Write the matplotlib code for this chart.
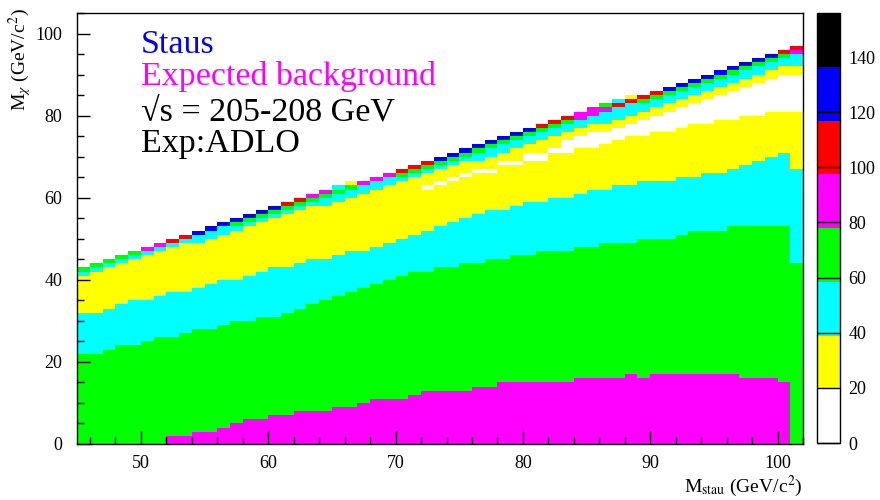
import numpy as np
import matplotlib
matplotlib.use('Agg')
import matplotlib.pyplot as plt
from matplotlib.colors import ListedColormap, BoundaryNorm
from matplotlib.ticker import MultipleLocator
from matplotlib.cm import ScalarMappable

plt.rcParams['font.family'] = ['Liberation Serif', 'DejaVu Serif']
plt.rcParams['mathtext.fontset'] = 'stix'

# ---------------- data (per 1 GeV M_stau bin, lower edges 45..101) ----------------
m_stau_lo = list(range(45, 102))
n_mchi_bins = 105
# upper edge of filled region per column
top = [43, 44, 45, 46, 47, 48, 49, 50, 51, 52, 53, 54, 55, 56, 57, 58, 59, 60, 61,
       62, 63, 64, 64, 65, 66, 67, 68, 69, 70, 71, 72, 73, 74, 75, 76, 77, 78, 79,
       80, 81, 82, 83, 84, 85, 85, 86, 87, 88, 89, 90, 91, 92, 93, 94, 95, 96, 97]
# colour class of the topmost cell and of the cell below it
# (0 white, 1 yellow, 2 cyan, 3 green, 4 magenta, 5 red, 6 blue, 7 black)
top_cell = [3, 3, 3, 3, 3, 4, 4, 5, 5, 6, 6, 6, 6, 6, 6, 6, 5, 5, 4, 4, 2, 1, 4, 4, 4,
            5, 5, 5, 6, 6, 6, 6, 6, 6, 6, 6, 5, 5, 5, 4, 4, 3, 2, 1, 5, 5, 6, 6, 6, 6,
            6, 6, 6, 6, 6, 5, 5]
second_cell = [2, 2, 2, 2, 2, 2, 2, 2, 2, 2, 2, 2, 3, 3, 3, 3, 3, 3, 3, 3, 3, 3, 2, 2,
               2, 3, 3, 3, 3, 3, 3, 3, 3, 3, 3, 3, 3, 3, 3, 4, 4, 4, 5, 5, 3, 3, 3, 3,
               3, 3, 3, 3, 3, 3, 3, 3, 4]
# bottom of the cyan strip under the two top cells
upper_cyan_bot = [41, 42, 43, 44, 45, 46, 47, 48, 49, 49, 50, 51, 52, 53, 54, 55, 56,
                  57, 58, 58, 59, 60, 61, 62, 63, 64, 65, 66, 67, 68, 69, 69, 70, 71,
                  72, 73, 74, 75, 76, 77, 78, 78, 79, 80, 81, 82, 83, 84, 85, 86, 87,
                  88, 89, 90, 91, 92, 92]
# white gap inside the yellow band (bottom / top edges)
white_bot = [0] * 27 + [62, 63, 64, 65, 66, 66, 68, 68, 69, 69, 71, 71, 72, 72, 73, 74,
                        75, 75, 76, 76, 77, 78, 78, 79, 79, 80, 80, 81, 81, 81]
white_top = [0] * 27 + [63, 64, 65, 66, 67, 67, 69, 69, 71, 71, 72, 74, 75, 76, 76, 77,
                        78, 79, 80, 81, 82, 83, 84, 85, 86, 87, 88, 89, 90, 90]
# top of the lower cyan, green and magenta regions
cyan_top = [32, 32, 33, 34, 35, 35, 36, 37, 37, 38, 39, 40, 40, 41, 42, 43, 43, 44, 45,
            45, 46, 47, 47, 48, 49, 50, 51, 52, 53, 54, 55, 56, 57, 57, 58, 59, 59, 60,
            60, 61, 62, 62, 63, 63, 64, 64, 64, 65, 65, 66, 66, 67, 68, 69, 70, 71, 67]
green_top = [22, 22, 23, 24, 24, 25, 26, 26, 27, 28, 28, 29, 30, 30, 31, 31, 32, 33, 34,
             35, 36, 37, 38, 39, 40, 41, 42, 42, 43, 43, 44, 44, 45, 45, 46, 46, 47, 47,
             47, 48, 48, 49, 49, 49, 50, 50, 50, 51, 52, 52, 52, 53, 53, 53, 53, 53, 44]
magenta_top = [0, 0, 0, 0, 0, 0, 0, 2, 2, 3, 3, 4, 5, 6, 6, 7, 7, 8, 8, 8, 9, 9, 10, 11,
               11, 11, 12, 13, 13, 13, 13, 14, 14, 15, 15, 15, 15, 15, 15, 16, 16, 16,
               16, 17, 16, 17, 17, 17, 17, 17, 17, 17, 16, 16, 16, 15, 0]

palette = ['#FFFFFF', '#FFFF00', '#00FFFF', '#00FF00', '#FF00FF', '#FF0000', '#0000FF', '#000000']
z_max = 156
cbar_ticks = [0, 20, 40, 60, 80, 100, 120, 140]

# ---------------- build the cell grid ----------------
nx = len(m_stau_lo)
Z = np.full((n_mchi_bins, nx), np.nan)
for i in range(nx):
    c = Z[:, i]
    t = top[i]
    c[:magenta_top[i]] = 4
    c[magenta_top[i]:green_top[i]] = 3
    c[green_top[i]:cyan_top[i]] = 2
    c[cyan_top[i]:t] = 1
    c[white_bot[i]:white_top[i]] = 0
    c[upper_cyan_bot[i]:t - 2] = 2
    c[t - 2] = second_cell[i]
    c[t - 1] = top_cell[i]

x_edges = np.array(m_stau_lo + [m_stau_lo[-1] + 1], dtype=float)
y_edges = np.arange(n_mchi_bins + 1, dtype=float)

cmap = ListedColormap(palette)
norm_cls = BoundaryNorm(np.arange(-0.5, len(palette) + 0.5), len(palette))

fig = plt.figure(figsize=(8.8, 5), dpi=100)
W, H = 880, 500
ax = fig.add_axes([77.3 / W, (H - 444) / H, (803 - 77.3) / W, (444 - 13) / H])
ax.pcolormesh(x_edges, y_edges, np.ma.masked_invalid(Z), cmap=cmap, norm=norm_cls,
              shading='flat', antialiased=False, edgecolors='none')
ax.set_xlim(45, 102)
ax.set_ylim(0, 105)
ax.xaxis.set_major_locator(MultipleLocator(10))
ax.xaxis.set_minor_locator(MultipleLocator(2))
ax.yaxis.set_major_locator(MultipleLocator(20))
ax.yaxis.set_minor_locator(MultipleLocator(5))
ax.tick_params(which='both', direction='in', top=False, right=False, width=1, colors='black',
               labelsize=13)
ax.tick_params(which='major', length=9.5)
ax.tick_params(which='minor', length=5)
ax.tick_params(axis='y', which='both', pad=11)
ax.tick_params(axis='x', which='both', pad=8)
for s in ax.spines.values():
    s.set_linewidth(1)
    s.set_color('black')

ax.text(50.0, 95.3, 'Staus', color='#0000FF', fontsize=24.5)
ax.text(50.0, 87.4, 'Expected background', color='#FF00FF', fontsize=24.5)
ax.text(50.0, 78.9, '\u221as = 205-208 GeV', color='black', fontsize=24.5)
ax.text(50.0, 71.2, 'Exp:ADLO', color='black', fontsize=24.5)

fig.text(803 / W, (H - 492) / H, r'M$_{\mathrm{stau}}$ (GeV/c$^{2}$)', ha='right', va='baseline',
         fontsize=14)
fig.text(20 / W, (H - 8) / H, r'M$_{\chi}$ (GeV/c$^{2}$)', ha='center', va='top', rotation=90,
         fontsize=14)

# ---------------- colour bar ----------------
cax = fig.add_axes([817 / W, (H - 443) / H, 23 / W, (443 - 13) / H])
sm = ScalarMappable(cmap=cmap, norm=BoundaryNorm(np.linspace(0, z_max, len(palette) + 1), len(palette)))
cb = fig.colorbar(sm, cax=cax)
cb.outline.set_linewidth(1)
cb.outline.set_edgecolor('black')
cax.set_ylim(0, z_max)
cb.set_ticks(cbar_ticks)
cb.set_ticklabels([str(v) for v in cbar_ticks])
cax.tick_params(direction='in', length=16.5, width=1, colors='black', labelsize=13, pad=6)
cax.minorticks_off()

fig.savefig('out.png', dpi=100)
